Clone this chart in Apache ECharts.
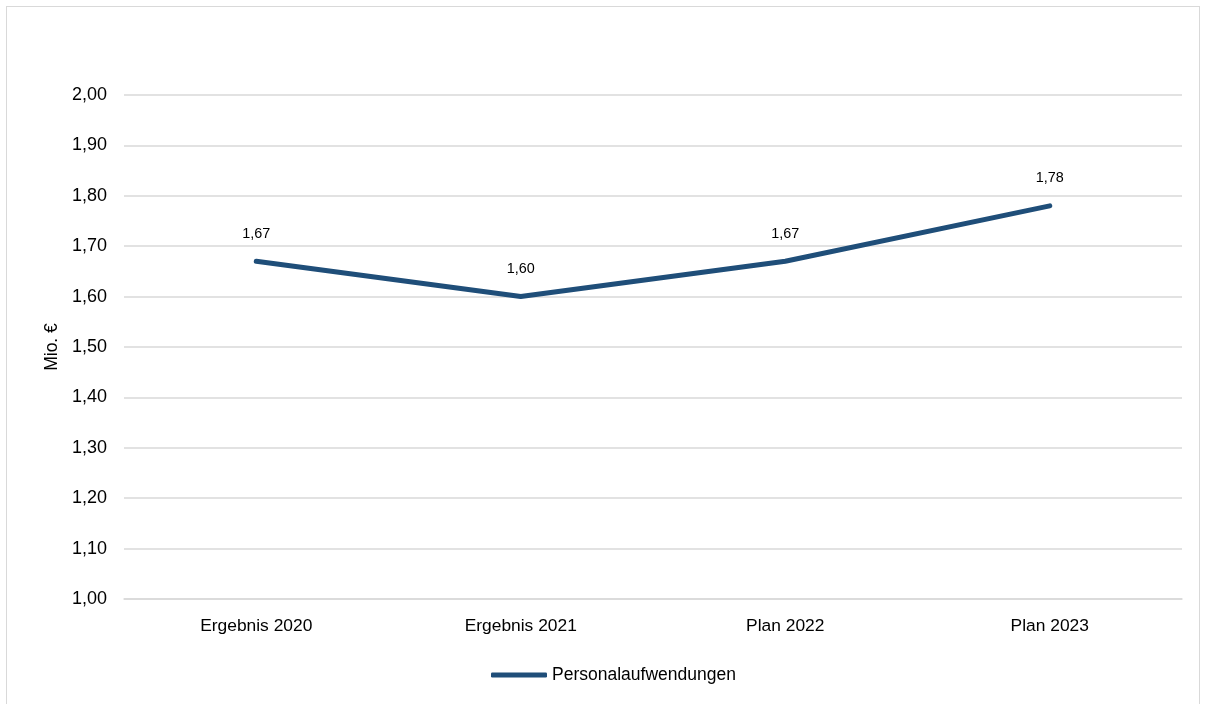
<!DOCTYPE html>
<html>
<head>
<meta charset="utf-8">
<script src="https://cdn.jsdelivr.net/npm/echarts@6/dist/echarts.min.js"></script>
<style>
  html, body { margin: 0; padding: 0; background: #fff; overflow: hidden; }
  #frame { position: absolute; left: 6px; top: 6px; width: 1194px; height: 720px; border: 1.5px solid #d9d9d9; box-sizing: border-box; }
  #chart { position: absolute; left: 0; top: 0; width: 1206px; height: 704px; }
</style>
</head>
<body>
<div id="frame"></div>
<div id="chart"></div>
<script>
// Personnel expenses, million euro
const categories = ['Ergebnis 2020', 'Ergebnis 2021', 'Plan 2022', 'Plan 2023'];
const personalaufwendungen = [1.67, 1.60, 1.67, 1.78];
const seriesName = 'Personalaufwendungen';
const axisTitle = 'Mio. €';

const fontFamily = '"Liberation Sans", Arial, sans-serif';
const lineColor = '#1f4e79';
const fmt = v => v.toFixed(2).replace('.', ',');

const chart = echarts.init(document.getElementById('chart'), null, { renderer: 'canvas' });
chart.setOption({
  animation: false,
  textStyle: { fontFamily: fontFamily, color: '#000' },
  grid: { left: 124, right: 24, top: 95, bottom: 105 },
  legend: {
    top: 661,
    left: 486,
    itemWidth: 56,
    itemHeight: 5,
    textStyle: { fontSize: 17.5, fontFamily: fontFamily, color: '#000' },
    data: [{ name: seriesName, icon: 'roundRect', itemStyle: { color: lineColor } }]
  },
  xAxis: {
    type: 'category',
    data: categories,
    boundaryGap: true,
    axisLine: { show: true, lineStyle: { color: '#d9d9d9', width: 1.5 } },
    axisTick: { show: false },
    axisLabel: { fontSize: 17.4, color: '#000', margin: 19, fontFamily: fontFamily }
  },
  yAxis: {
    type: 'value',
    min: 1.0,
    max: 2.0,
    interval: 0.1,
    name: axisTitle,
    nameLocation: 'middle',
    nameGap: 56,
    nameTextStyle: { fontSize: 17.5, color: '#000', fontFamily: fontFamily },
    axisLine: { show: false },
    axisTick: { show: false },
    splitLine: { lineStyle: { color: '#d9d9d9', width: 1.5 } },
    axisLabel: { fontSize: 18, color: '#000', margin: 17, fontFamily: fontFamily, formatter: fmt }
  },
  series: [{
    name: seriesName,
    type: 'line',
    data: personalaufwendungen,
    symbol: 'circle',
    symbolSize: 1,
    showSymbol: true,
    lineStyle: { color: lineColor, width: 5, cap: 'round', join: 'round' },
    itemStyle: { color: 'rgba(0,0,0,0)' },
    label: {
      show: true,
      position: 'top',
      distance: 20,
      fontSize: 14.4,
      color: '#000',
      fontFamily: fontFamily,
      formatter: p => fmt(p.value)
    }
  }]
});
</script>
</body>
</html>
